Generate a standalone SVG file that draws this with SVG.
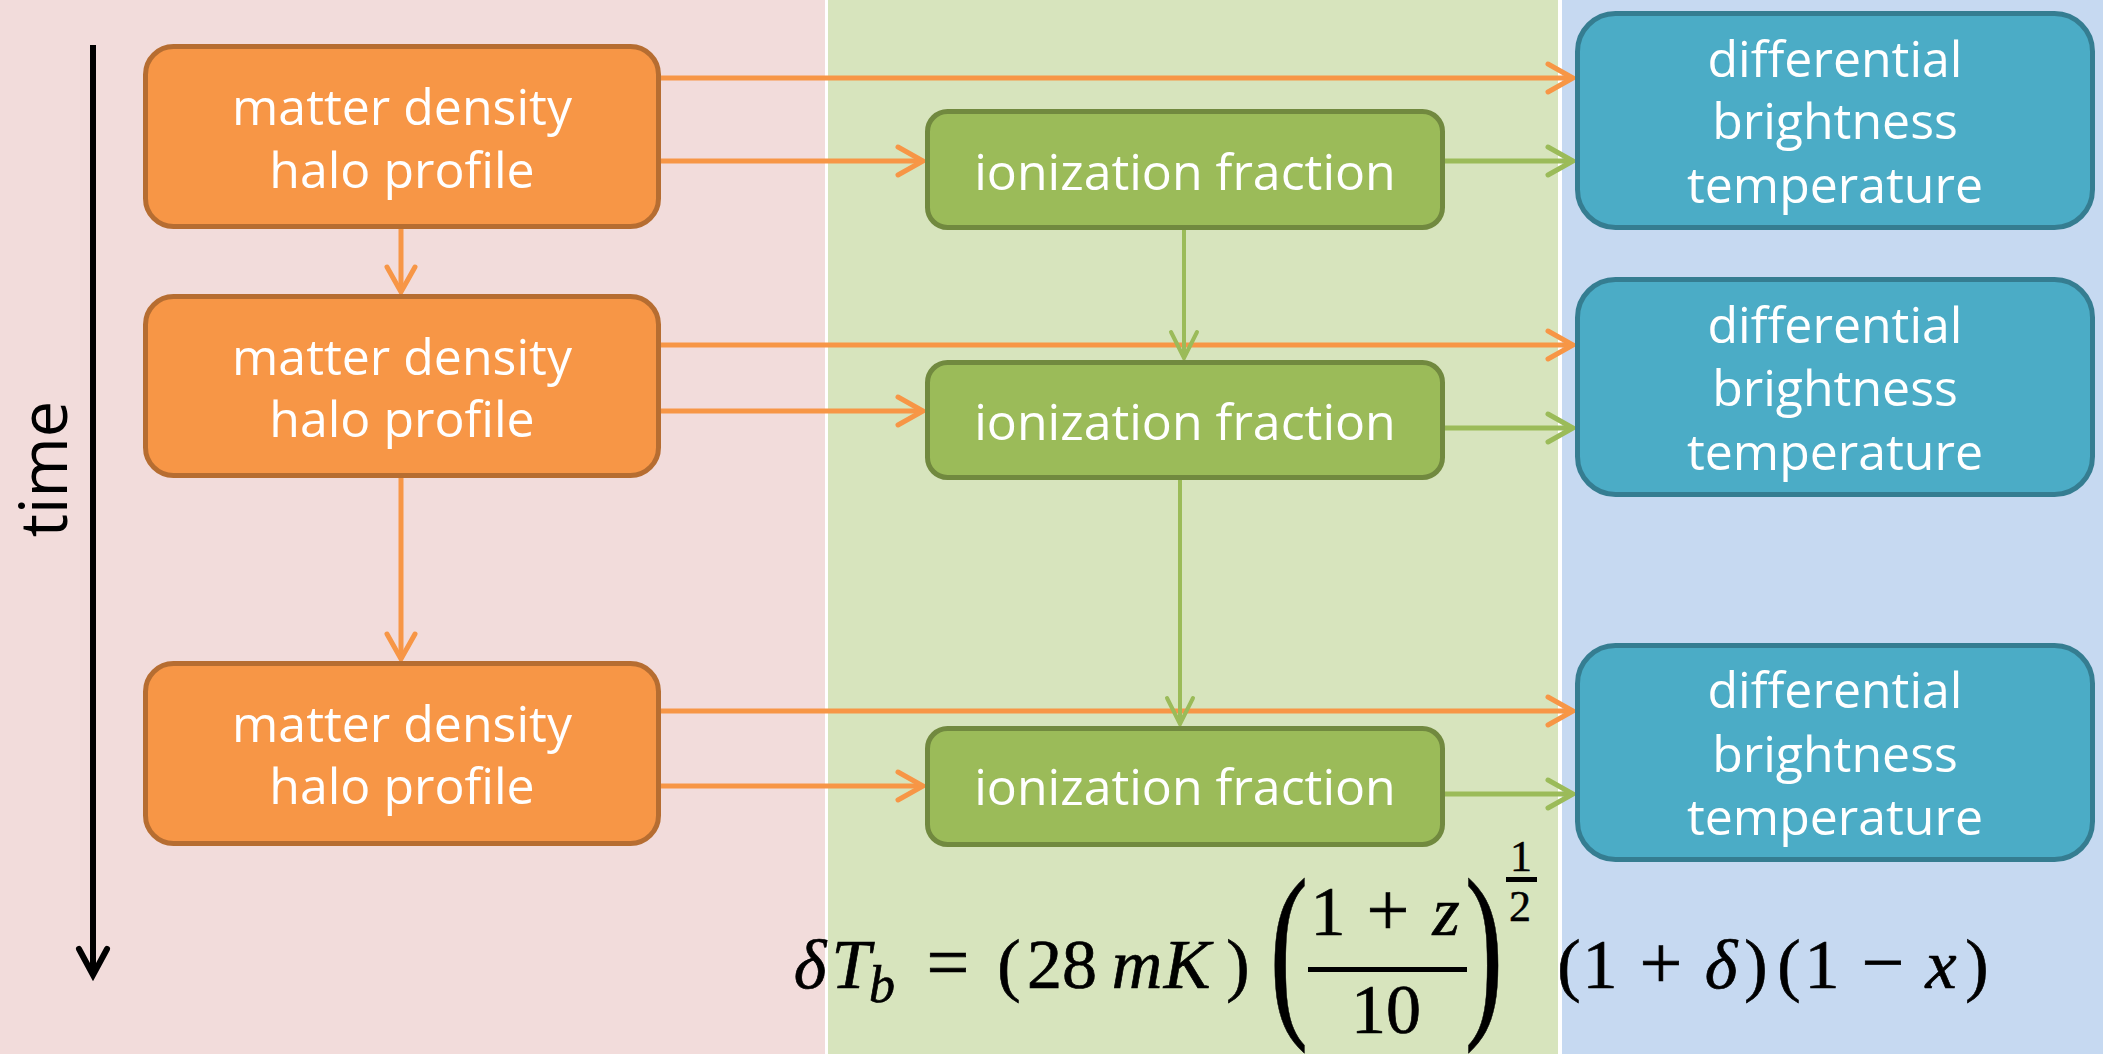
<svg xmlns="http://www.w3.org/2000/svg" width="2103" height="1054" viewBox="0 0 2103 1054">
<defs>
<style>
.lbl{font-family:"Open Sans","Noto Sans","DejaVu Sans",sans-serif;font-size:50px;fill:#ffffff;text-anchor:middle}
.ob{fill:#F79646;stroke:#B66D31;stroke-width:5}
.gb{fill:#9BBB59;stroke:#71893F;stroke-width:5}
.bb{fill:#4BACC6;stroke:#357D91;stroke-width:5}
.co{stroke:#F79646;stroke-width:5;fill:none;marker-end:url(#arrO)}
.cg{stroke:#9BBB59;stroke-width:5;fill:none;marker-end:url(#arrG)}
.cgv{stroke:#9BBB59;stroke-width:4;fill:none;marker-end:url(#arrGv)}
.m{font-family:"Liberation Serif","Times New Roman",serif;font-size:70px;fill:#000;stroke:#000;stroke-width:0.7;text-anchor:middle}
.mi{font-style:italic}
</style>
<marker id="arrO" markerUnits="userSpaceOnUse" markerWidth="40" markerHeight="40" refX="0" refY="0" orient="auto" overflow="visible"><path d="M -25 -14 L 0 0 L -25 14" fill="none" stroke="#F79646" stroke-width="5" stroke-linecap="round"/></marker>
<marker id="arrG" markerUnits="userSpaceOnUse" markerWidth="40" markerHeight="40" refX="0" refY="0" orient="auto" overflow="visible"><path d="M -25 -14 L 0 0 L -25 14" fill="none" stroke="#9BBB59" stroke-width="5" stroke-linecap="round"/></marker>
<marker id="arrGv" markerUnits="userSpaceOnUse" markerWidth="40" markerHeight="40" refX="0" refY="0" orient="auto" overflow="visible"><path d="M -26 -13 L 0 0 L -26 13" fill="none" stroke="#9BBB59" stroke-width="4" stroke-linecap="round"/></marker>
<marker id="arrK" markerUnits="userSpaceOnUse" markerWidth="40" markerHeight="40" refX="0" refY="0" orient="auto" overflow="visible"><path d="M -26 -14 L 0 0 L -26 14" fill="none" stroke="#000" stroke-width="6" stroke-linecap="round"/></marker>
</defs>
<rect x="0" y="0" width="2103" height="1054" fill="#ffffff"/>
<g id="panels">
<rect x="0" y="0" width="825" height="1054" fill="#F2DCDB"/>
<rect x="828" y="0" width="730" height="1054" fill="#D7E4BD"/>
<rect x="1562" y="0" width="541" height="1054" fill="#C6D9F1"/>
</g>
<g id="time-axis">
<line x1="93" y1="45" x2="93" y2="975" stroke="#000" stroke-width="6" marker-end="url(#arrK)"/>
<text transform="translate(67,469) rotate(-90)" x="0" y="0" font-family="Open Sans, Noto Sans, sans-serif" font-size="65" fill="#000" text-anchor="middle">time</text>
</g>
<g id="connectors">
<line class="co" x1="661" y1="78" x2="1573" y2="78"/>
<line class="co" x1="661" y1="161" x2="923" y2="161"/>
<line class="co" x1="401" y1="229" x2="401" y2="292"/>
<line class="co" x1="661" y1="345" x2="1573" y2="345"/>
<line class="co" x1="661" y1="411" x2="923" y2="411"/>
<line class="co" x1="401" y1="478" x2="401" y2="659"/>
<line class="co" x1="661" y1="711" x2="1573" y2="711"/>
<line class="co" x1="661" y1="786" x2="923" y2="786"/>
<line class="cg" x1="1445" y1="161" x2="1573" y2="161"/>
<line class="cg" x1="1445" y1="428" x2="1573" y2="428"/>
<line class="cg" x1="1445" y1="794" x2="1573" y2="794"/>
<line class="cgv" x1="1184" y1="230" x2="1184" y2="358"/>
<line class="cgv" x1="1180" y1="480" x2="1180" y2="724"/>
</g>
<g id="matter1"><rect class="ob" x="145.5" y="46.5" width="513" height="180" rx="28"/><text class="lbl" x="402" y="125">matter density</text><text class="lbl" x="402" y="188">halo profile</text></g>
<g id="matter2"><rect class="ob" x="145.5" y="296.5" width="513" height="179" rx="28"/><text class="lbl" x="402" y="375">matter density</text><text class="lbl" x="402" y="437">halo profile</text></g>
<g id="matter3"><rect class="ob" x="145.5" y="663.5" width="513" height="180" rx="28"/><text class="lbl" x="402" y="742">matter density</text><text class="lbl" x="402" y="804">halo profile</text></g>
<g id="ion1"><rect class="gb" x="927.5" y="111.5" width="515" height="116" rx="20"/><text class="lbl" x="1185" y="190">ionization fraction</text></g>
<g id="ion2"><rect class="gb" x="927.5" y="362.5" width="515" height="115" rx="20"/><text class="lbl" x="1185" y="440">ionization fraction</text></g>
<g id="ion3"><rect class="gb" x="927.5" y="728.5" width="515" height="116" rx="20"/><text class="lbl" x="1185" y="805">ionization fraction</text></g>
<g id="dtb1"><rect class="bb" x="1577.5" y="13.5" width="515" height="214" rx="38"/><text class="lbl" x="1835" y="77">differential</text><text class="lbl" x="1835" y="139">brightness</text><text class="lbl" x="1835" y="203">temperature</text></g>
<g id="dtb2"><rect class="bb" x="1577.5" y="279.5" width="515" height="215" rx="38"/><text class="lbl" x="1835" y="343">differential</text><text class="lbl" x="1835" y="406">brightness</text><text class="lbl" x="1835" y="470">temperature</text></g>
<g id="dtb3"><rect class="bb" x="1577.5" y="645.5" width="515" height="214" rx="38"/><text class="lbl" x="1835" y="708">differential</text><text class="lbl" x="1835" y="772">brightness</text><text class="lbl" x="1835" y="835">temperature</text></g>
<g id="formula">
<text class="m mi" x="810" y="988">δ</text>
<text class="m mi" x="851" y="988">T</text>
<text class="m mi" x="882" y="1002" style="font-size:52px">b</text>
<text class="m" x="948" y="988" style="font-size:76px">=</text>
<text class="m" x="1009" y="988">(</text>
<text class="m" x="1062" y="988">28</text>
<text class="m mi" x="1137" y="988">m</text>
<text class="m mi" x="1187" y="988">K</text>
<text class="m" x="1238" y="988">)</text>
<text class="m" transform="translate(1289,1012) scale(0.6,1)" x="0" y="0" style="font-size:192px">(</text>
<text class="m" x="1328" y="935">1</text>
<text class="m" x="1388" y="935" style="font-size:76px">+</text>
<text class="m mi" x="1446" y="935">z</text>
<rect x="1308" y="967" width="159" height="5" fill="#000"/>
<text class="m" x="1386" y="1033">10</text>
<text class="m" transform="translate(1484,1012) scale(0.6,1)" x="0" y="0" style="font-size:192px">)</text>
<text class="m" x="1521" y="871" style="font-size:44px;stroke-width:0.5">1</text>
<rect x="1506" y="877" width="31" height="5" fill="#000"/>
<text class="m" x="1520" y="921" style="font-size:44px;stroke-width:0.5">2</text>
<text class="m" x="1569" y="988">(</text>
<text class="m" x="1600" y="988">1</text>
<text class="m" x="1661" y="988" style="font-size:76px">+</text>
<text class="m mi" x="1721" y="988">δ</text>
<text class="m" x="1756" y="988">)</text>
<text class="m" x="1789" y="988">(</text>
<text class="m" x="1822" y="988">1</text>
<text class="m" x="1883" y="988" style="font-size:76px">−</text>
<text class="m mi" x="1941" y="988">x</text>
<text class="m" x="1977" y="988">)</text>
</g>
</svg>
